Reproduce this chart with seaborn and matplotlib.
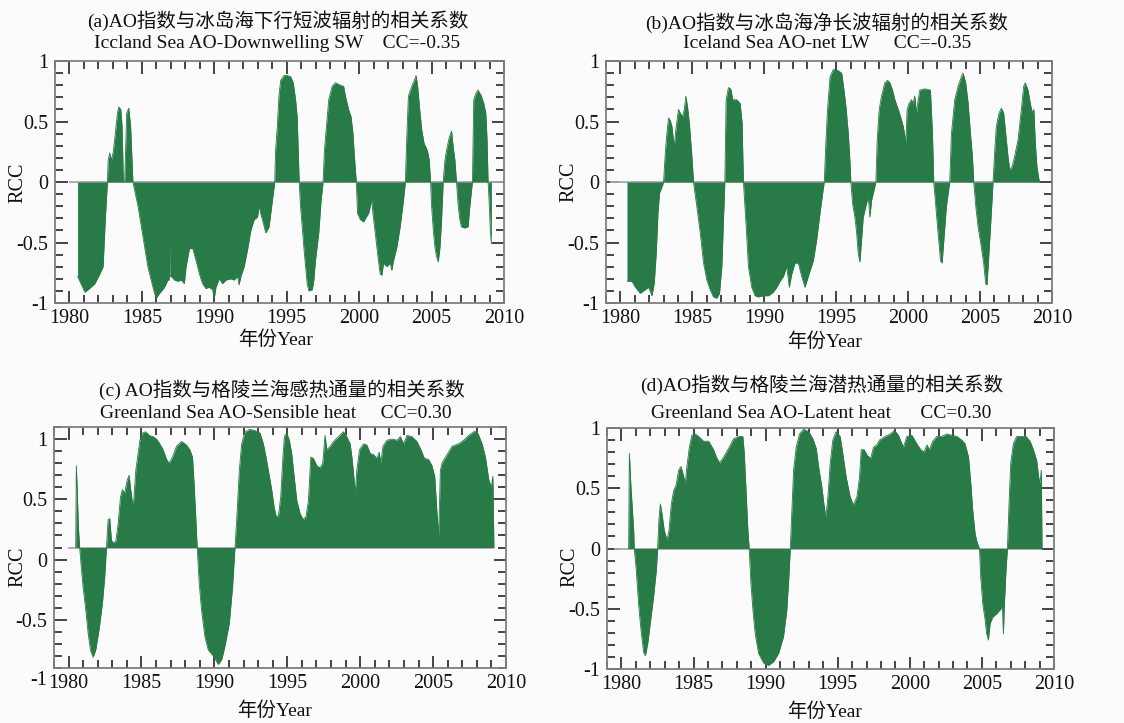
import matplotlib
matplotlib.use("Agg")
import matplotlib.pyplot as plt
from matplotlib.ticker import FixedLocator, MultipleLocator
import seaborn as sns

# ---------------- data ----------------
a_year = [1980.56, 1981.06, 1981.29, 1981.75, 1982.09, 1982.32, 1982.48, 1982.62, 1982.67, 1982.78,
          1982.89, 1983.01, 1983.12, 1983.31, 1983.40, 1983.54, 1983.63, 1983.72, 1983.81, 1983.95,
          1984.09, 1984.22, 1984.38, 1984.73, 1984.96, 1985.19, 1985.41, 1985.64, 1985.87, 1985.99,
          1986.22, 1986.56, 1986.79, 1986.88, 1986.90, 1986.93, 1987.02, 1987.25, 1987.48, 1987.71,
          1987.93, 1988.05, 1988.28, 1988.51, 1988.74, 1988.97, 1989.19, 1989.42, 1989.65, 1989.88,
          1990.00, 1990.11, 1990.34, 1990.57, 1990.80, 1991.14, 1991.37, 1991.60, 1991.71, 1991.83,
          1992.06, 1992.29, 1992.52, 1992.75, 1992.98, 1993.09, 1993.20, 1993.32, 1993.55, 1993.78,
          1994.01, 1994.17, 1994.23, 1994.35, 1994.46, 1994.58, 1994.81, 1995.04, 1995.27, 1995.45,
          1995.61, 1995.72, 1995.79, 1995.86, 1995.95, 1996.07, 1996.18, 1996.30, 1996.41, 1996.53,
          1996.76, 1996.87, 1996.98, 1997.21, 1997.37, 1997.51, 1997.60, 1997.74, 1997.90, 1998.13,
          1998.36, 1998.70, 1998.93, 1999.05, 1999.27, 1999.44, 1999.57, 1999.69, 1999.80, 1999.89,
          2000.08, 2000.31, 2000.49, 2000.65, 2000.81, 2000.88, 2000.95, 2001.11, 2001.27, 2001.45,
          2001.57, 2001.68, 2001.91, 2002.14, 2002.25, 2002.37, 2002.60, 2002.83, 2003.06, 2003.19,
          2003.28, 2003.40, 2003.63, 2003.81, 2003.93, 2004.04, 2004.16, 2004.32, 2004.48, 2004.71,
          2004.84, 2004.93, 2005.00, 2005.12, 2005.23, 2005.35, 2005.46, 2005.58, 2005.69, 2005.80,
          2005.92, 2006.03, 2006.22, 2006.38, 2006.49, 2006.61, 2006.72, 2006.84, 2006.95, 2007.06,
          2007.29, 2007.52, 2007.64, 2007.82, 2007.91, 2008.05, 2008.21, 2008.44, 2008.60, 2008.74,
          2008.83, 2008.90, 2008.97, 2009.06, 2009.13]
a_rcc = [-0.78, -0.91, -0.89, -0.84, -0.76, -0.70, -0.29, 0.0, 0.18, 0.24,
         0.18, 0.24, 0.35, 0.57, 0.62, 0.60, 0.46, 0.0, 0.0, 0.57,
         0.61, 0.46, 0.0, -0.20, -0.37, -0.54, -0.70, -0.81, -0.92, -0.96,
         -0.92, -0.87, -0.81, -0.81, -0.45, -0.78, -0.78, -0.81, -0.82, -0.81,
         -0.84, -0.70, -0.55, -0.55, -0.65, -0.76, -0.84, -0.88, -0.87, -0.89,
         -0.96, -0.87, -0.80, -0.84, -0.81, -0.80, -0.81, -0.78, -0.85, -0.78,
         -0.70, -0.56, -0.40, -0.31, -0.29, -0.20, -0.26, -0.31, -0.42, -0.37,
         -0.15, 0.0, 0.26, 0.46, 0.71, 0.84, 0.88, 0.88, 0.87, 0.82,
         0.68, 0.54, 0.26, 0.0, -0.20, -0.37, -0.54, -0.70, -0.84, -0.90,
         -0.89, -0.81, -0.65, -0.42, -0.15, 0.0, 0.26, 0.46, 0.68, 0.79,
         0.82, 0.80, 0.79, 0.71, 0.60, 0.54, 0.40, 0.18, 0.0, -0.26,
         -0.31, -0.33, -0.29, -0.26, -0.18, -0.15, -0.26, -0.42, -0.59, -0.76,
         -0.77, -0.67, -0.70, -0.67, -0.73, -0.65, -0.54, -0.37, -0.15, 0.0,
         0.35, 0.71, 0.79, 0.84, 0.88, 0.79, 0.62, 0.43, 0.32, 0.26,
         0.18, 0.0, -0.20, -0.40, -0.54, -0.62, -0.66, -0.54, -0.31, 0.0,
         0.18, 0.26, 0.37, 0.42, 0.29, 0.18, 0.0, -0.20, -0.31, -0.37,
         -0.38, -0.37, -0.20, 0.0, 0.68, 0.73, 0.76, 0.71, 0.65, 0.57,
         0.35, 0.0, -0.15, -0.42, -0.51]

b_year = [1980.46, 1980.80, 1981.04, 1981.38, 1981.73, 1981.96, 1982.19, 1982.35, 1982.49, 1982.61,
          1982.72, 1982.89, 1983.00, 1983.12, 1983.23, 1983.35, 1983.46, 1983.58, 1983.74, 1983.88,
          1984.04, 1984.16, 1984.32, 1984.44, 1984.55, 1984.67, 1984.81, 1984.97, 1985.08, 1985.31,
          1985.55, 1985.78, 1986.01, 1986.24, 1986.47, 1986.70, 1986.89, 1987.05, 1987.17, 1987.26,
          1987.35, 1987.51, 1987.67, 1987.81, 1988.09, 1988.32, 1988.46, 1988.55, 1988.74, 1988.90,
          1989.13, 1989.36, 1989.59, 1989.94, 1990.29, 1990.63, 1990.87, 1991.10, 1991.33, 1991.56,
          1991.74, 1991.91, 1992.14, 1992.37, 1992.60, 1992.83, 1993.06, 1993.41, 1993.64, 1993.87,
          1994.06, 1994.17, 1994.29, 1994.40, 1994.57, 1994.80, 1995.14, 1995.38, 1995.54, 1995.68,
          1995.84, 1995.95, 1996.02, 1996.14, 1996.30, 1996.42, 1996.53, 1996.65, 1996.76, 1996.88,
          1997.06, 1997.23, 1997.34, 1997.46, 1997.62, 1997.76, 1997.85, 1997.99, 1998.15, 1998.38,
          1998.57, 1998.73, 1998.91, 1999.08, 1999.31, 1999.47, 1999.66, 1999.84, 1999.93, 2000.07,
          2000.23, 2000.35, 2000.46, 2000.58, 2000.70, 2000.81, 2001.16, 2001.55, 2001.69, 2001.78,
          2001.92, 2002.08, 2002.25, 2002.36, 2002.48, 2002.66, 2002.89, 2003.01, 2003.24, 2003.47,
          2003.70, 2003.82, 2004.00, 2004.17, 2004.33, 2004.47, 2004.56, 2004.70, 2004.86, 2005.09,
          2005.25, 2005.39, 2005.48, 2005.60, 2005.78, 2005.90, 2006.02, 2006.13, 2006.32, 2006.48,
          2006.64, 2006.78, 2006.94, 2007.06, 2007.24, 2007.40, 2007.64, 2007.87, 2008.03, 2008.14,
          2008.33, 2008.49, 2008.63, 2008.74, 2008.84, 2008.95, 2009.09, 2009.18]
b_rcc = [-0.82, -0.82, -0.87, -0.92, -0.89, -0.87, -0.94, -0.84, -0.59, -0.26,
         -0.09, -0.04, 0.0, 0.24, 0.40, 0.53, 0.51, 0.46, 0.29, 0.46,
         0.60, 0.57, 0.54, 0.60, 0.71, 0.62, 0.46, 0.21, 0.0, -0.20,
         -0.42, -0.67, -0.81, -0.89, -0.95, -0.96, -0.92, -0.70, -0.29, 0.0,
         0.68, 0.78, 0.77, 0.68, 0.68, 0.65, 0.49, 0.0, -0.36, -0.70,
         -0.87, -0.94, -0.95, -0.94, -0.94, -0.91, -0.87, -0.82, -0.78, -0.70,
         -0.87, -0.76, -0.67, -0.67, -0.78, -0.87, -0.78, -0.65, -0.48, -0.26,
         -0.09, 0.0, 0.35, 0.60, 0.87, 0.93, 0.92, 0.90, 0.76, 0.62,
         0.40, 0.18, 0.0, -0.18, -0.29, -0.42, -0.59, -0.66, -0.48, -0.29,
         -0.20, -0.12, -0.29, -0.15, -0.07, 0.0, 0.35, 0.60, 0.71, 0.82,
         0.84, 0.82, 0.76, 0.68, 0.60, 0.54, 0.46, 0.33, 0.60, 0.65,
         0.68, 0.65, 0.71, 0.57, 0.68, 0.76, 0.77, 0.76, 0.40, 0.0,
         -0.20, -0.42, -0.65, -0.67, -0.48, -0.20, 0.0, 0.40, 0.68, 0.79,
         0.87, 0.90, 0.82, 0.65, 0.40, 0.21, 0.0, -0.20, -0.37, -0.54,
         -0.67, -0.84, -0.85, -0.62, -0.26, 0.0, 0.26, 0.46, 0.57, 0.61,
         0.57, 0.40, 0.21, 0.10, 0.13, 0.21, 0.35, 0.60, 0.79, 0.82,
         0.76, 0.65, 0.57, 0.60, 0.32, 0.13, 0.02, 0.0]

c_year = [1980.49, 1980.53, 1980.60, 1980.67, 1980.76, 1980.88, 1980.99, 1981.18, 1981.34, 1981.50,
          1981.68, 1981.86, 1982.09, 1982.32, 1982.48, 1982.60, 1982.71, 1982.82, 1982.94, 1983.05,
          1983.24, 1983.40, 1983.56, 1983.69, 1983.85, 1984.02, 1984.15, 1984.24, 1984.38, 1984.47,
          1984.61, 1984.77, 1984.89, 1985.07, 1985.30, 1985.53, 1985.80, 1986.03, 1986.26, 1986.49,
          1986.72, 1986.90, 1987.13, 1987.40, 1987.75, 1988.09, 1988.32, 1988.50, 1988.62, 1988.73,
          1988.82, 1988.96, 1989.12, 1989.35, 1989.58, 1989.92, 1990.27, 1990.50, 1990.72, 1991.02,
          1991.25, 1991.41, 1991.53, 1991.71, 1991.87, 1992.10, 1992.44, 1992.79, 1993.13, 1993.36,
          1993.54, 1993.70, 1993.93, 1994.09, 1994.23, 1994.39, 1994.55, 1994.69, 1994.80, 1994.96,
          1995.14, 1995.30, 1995.47, 1995.65, 1995.88, 1996.11, 1996.29, 1996.45, 1996.61, 1996.79,
          1997.02, 1997.25, 1997.43, 1997.59, 1997.71, 1997.94, 1998.17, 1998.51, 1998.85, 1999.08,
          1999.31, 1999.43, 1999.54, 1999.66, 1999.77, 1999.95, 2000.23, 2000.46, 2000.69, 2000.92,
          2001.14, 2001.30, 2001.42, 2001.56, 2001.83, 2002.17, 2002.52, 2002.75, 2002.98, 2003.21,
          2003.55, 2003.89, 2004.17, 2004.40, 2004.69, 2004.92, 2005.11, 2005.27, 2005.38, 2005.50,
          2005.61, 2005.95, 2006.30, 2006.53, 2006.75, 2007.10, 2007.44, 2007.79, 2007.97, 2008.13,
          2008.36, 2008.59, 2008.82, 2008.99, 2009.10, 2009.17]
c_rcc = [0.0, 0.68, 0.45, 0.17, 0.0, -0.18, -0.32, -0.52, -0.71, -0.85,
         -0.91, -0.85, -0.68, -0.46, -0.24, 0.0, 0.23, 0.24, 0.06, 0.04,
         0.05, 0.20, 0.42, 0.48, 0.45, 0.56, 0.60, 0.50, 0.37, 0.39,
         0.64, 0.78, 0.89, 0.95, 0.96, 0.93, 0.92, 0.90, 0.86, 0.81,
         0.73, 0.70, 0.75, 0.84, 0.88, 0.85, 0.81, 0.75, 0.50, 0.23,
         0.0, -0.30, -0.52, -0.74, -0.85, -0.90, -0.97, -0.93, -0.82, -0.63,
         -0.32, 0.0, 0.23, 0.64, 0.86, 0.96, 0.98, 0.97, 0.95, 0.86,
         0.75, 0.64, 0.48, 0.34, 0.26, 0.26, 0.42, 0.73, 0.92, 0.95,
         0.89, 0.78, 0.59, 0.39, 0.28, 0.23, 0.26, 0.39, 0.75, 0.74,
         0.68, 0.66, 0.70, 0.93, 0.81, 0.84, 0.88, 0.92, 0.96, 0.92,
         0.86, 0.75, 0.62, 0.45, 0.64, 0.81, 0.86, 0.85, 0.78, 0.77,
         0.74, 0.79, 0.70, 0.84, 0.89, 0.90, 0.89, 0.92, 0.86, 0.93,
         0.92, 0.88, 0.81, 0.74, 0.73, 0.68, 0.59, 0.28, 0.10, 0.64,
         0.70, 0.77, 0.84, 0.85, 0.86, 0.89, 0.93, 0.96, 0.97, 0.93,
         0.86, 0.75, 0.56, 0.50, 0.59, 0.0]

d_year = [1980.50, 1980.55, 1980.66, 1980.76, 1980.85, 1980.89, 1981.03, 1981.19, 1981.36, 1981.54,
          1981.66, 1981.82, 1982.00, 1982.23, 1982.42, 1982.51, 1982.60, 1982.70, 1982.81, 1982.97,
          1983.16, 1983.30, 1983.46, 1983.62, 1983.80, 1983.97, 1984.13, 1984.27, 1984.43, 1984.54,
          1984.71, 1984.89, 1985.12, 1985.35, 1985.70, 1986.05, 1986.39, 1986.62, 1986.81, 1987.09,
          1987.43, 1987.78, 1988.12, 1988.42, 1988.52, 1988.66, 1988.77, 1988.86, 1988.98, 1989.12,
          1989.28, 1989.51, 1989.86, 1990.20, 1990.55, 1990.90, 1991.24, 1991.47, 1991.61, 1991.71,
          1991.82, 1991.94, 1992.12, 1992.35, 1992.63, 1992.98, 1993.28, 1993.51, 1993.67, 1993.90,
          1994.06, 1994.18, 1994.32, 1994.48, 1994.66, 1994.89, 1995.17, 1995.35, 1995.59, 1995.86,
          1996.09, 1996.33, 1996.51, 1996.63, 1996.83, 1997.06, 1997.30, 1997.48, 1997.71, 1997.90,
          1998.29, 1998.64, 1998.94, 1999.21, 1999.56, 1999.79, 2000.14, 2000.48, 2000.76, 2000.99,
          2001.18, 2001.36, 2001.59, 2001.87, 2002.22, 2002.56, 2002.91, 2003.26, 2003.60, 2003.83,
          2004.07, 2004.23, 2004.36, 2004.53, 2004.69, 2004.83, 2004.92, 2005.06, 2005.22, 2005.33,
          2005.45, 2005.57, 2005.75, 2006.03, 2006.26, 2006.42, 2006.49, 2006.56, 2006.67, 2006.77,
          2006.88, 2007.00, 2007.18, 2007.41, 2007.76, 2008.06, 2008.34, 2008.57, 2008.80, 2008.94,
          2009.03, 2009.12, 2009.17]
d_rcc = [0.0, 0.79, 0.51, 0.32, 0.15, 0.0, -0.18, -0.46, -0.68, -0.86,
         -0.89, -0.79, -0.62, -0.40, -0.18, 0.0, 0.24, 0.37, 0.29, 0.15,
         0.07, 0.15, 0.37, 0.48, 0.53, 0.65, 0.68, 0.62, 0.54, 0.68,
         0.84, 0.94, 0.95, 0.93, 0.89, 0.89, 0.82, 0.75, 0.71, 0.76,
         0.83, 0.91, 0.93, 0.93, 0.79, 0.43, 0.15, 0.0, -0.29, -0.51,
         -0.71, -0.87, -0.95, -0.97, -0.94, -0.87, -0.73, -0.51, -0.24, 0.0,
         0.32, 0.65, 0.84, 0.95, 0.99, 0.97, 0.91, 0.83, 0.68, 0.51,
         0.35, 0.26, 0.43, 0.71, 0.90, 0.97, 0.93, 0.79, 0.59, 0.43,
         0.36, 0.43, 0.59, 0.82, 0.82, 0.77, 0.75, 0.84, 0.86, 0.90,
         0.93, 0.95, 0.98, 0.94, 0.84, 0.93, 0.94, 0.87, 0.82, 0.80,
         0.86, 0.82, 0.89, 0.93, 0.93, 0.95, 0.94, 0.93, 0.90, 0.87,
         0.76, 0.54, 0.32, 0.12, 0.04, 0.0, -0.24, -0.46, -0.59, -0.71,
         -0.76, -0.62, -0.57, -0.54, -0.51, -0.48, -0.71, -0.46, -0.18, 0.0,
         0.37, 0.71, 0.87, 0.93, 0.93, 0.93, 0.89, 0.82, 0.73, 0.59,
         0.54, 0.65, 0.0]

zero_spans = [(1980.0, 2009.9), (1979.3, 2009.2), (1979.96, 2009.2), (1979.46, 2009.2)]

titles_cn = ["(a)AO指数与冰岛海下行短波辐射的相关系数",
             "(b)AO指数与冰岛海净长波辐射的相关系数",
             "(c) AO指数与格陵兰海感热通量的相关系数",
             "(d)AO指数与格陵兰海潜热通量的相关系数"]
titles_en = ["Iccland Sea AO-Downwelling SW    CC=-0.35",
             "Iceland Sea AO-net LW     CC=-0.35",
             "Greenland Sea AO-Sensible heat     CC=0.30",
             "Greenland Sea AO-Latent heat      CC=0.30"]
x_ticks = [1980, 1985, 1990, 1995, 2000, 2005, 2010]
x_labels = ["1980", "1985", "1990", "1995", "2000", "2005", "2010"]
y_labels = ["1", "0.5", "0", "-0.5", "-1"]
y_label_values = [1.0, 0.5, 0.0, -0.5, -1.0]
label_shift = [0.0, 0.0, 0.1, 0.0]   # panel (c) has its tick labels offset from the data baseline

# ---------------- style ----------------
sns.set_theme(style="ticks")
plt.rcParams["font.family"] = ["Liberation Serif", "Noto Sans CJK SC", "DejaVu Sans"]
plt.rcParams["axes.unicode_minus"] = False

GREEN = "#287a47"
BG = "#fbfbfb"
TICK = "#444444"
W, H = 1124, 723

fig = plt.figure(figsize=(W / 100, H / 100), dpi=100, facecolor=BG)

# axes boxes in pixels: left, top, right, bottom
boxes = [(55, 61, 504, 303), (606, 61, 1052, 303), (54, 427, 506, 668), (607, 428, 1054, 669)]
title_pos = [((278, 21), (277, 43)), ((827, 23), (827, 43)), ((282, 390), (276, 413)), ((822, 385), (821, 413))]
ylab_pos = [(18, 183), (569, 182), (18, 567), (570, 567)]
xlab_pos = [(276, 340), (825, 342), (275, 711), (825, 712)]

def fx(x):
    return x / W

def fy(y):
    return 1 - y / H

series = [(a_year, a_rcc), (b_year, b_rcc), (c_year, c_rcc), (d_year, d_rcc)]

for i, (yrs, vals) in enumerate(series):
    l, t, r, b = boxes[i]
    ax = fig.add_axes([fx(l), fy(b), (r - l) / W, (b - t) / H])
    ax.set_facecolor(BG)
    ax.hlines(0, zero_spans[i][0], zero_spans[i][1], color="#a8a8a8", lw=1.3, zorder=1)
    ax.fill_between(yrs, 0, vals, color=GREEN, lw=0, zorder=2)
    sns.lineplot(x=yrs, y=vals, ax=ax, color=GREEN, lw=0.6, zorder=3,
                 estimator=None, sort=False)
    ax.set_xlim(1979, 2010)
    ax.set_ylim(-1, 1)
    ax.set_xlabel("")
    ax.set_ylabel("")

    ax.xaxis.set_major_locator(FixedLocator(x_ticks))
    ax.set_xticklabels(x_labels)
    ax.xaxis.set_minor_locator(MultipleLocator(1))

    sh = label_shift[i]
    pos = [v - sh for v in y_label_values]
    shown = [(p, lab) for p, lab in zip(pos, y_labels) if p >= -1.0001]
    ax.yaxis.set_major_locator(FixedLocator([p for p, _ in shown]))
    ax.set_yticklabels([lab for _, lab in shown])
    ax.yaxis.set_minor_locator(MultipleLocator(0.1))
    hidden = [(p, lab) for p, lab in zip(pos, y_labels) if p < -1.0001]
    for p, lab in hidden:
        ax.annotate(lab, xy=(0, p), xycoords=("axes fraction", "data"),
                    xytext=(-5, 0), textcoords="offset points",
                    ha="right", va="center", fontsize=14.5, color="#111111",
                    annotation_clip=False)

    ax.tick_params(axis="both", which="major", direction="in", top=True, right=True,
                   bottom=True, left=True, length=9, width=1.4, color=TICK,
                   labelsize=14.5, labelcolor="#111111")
    ax.tick_params(axis="both", which="minor", direction="in", top=True, right=True,
                   bottom=True, left=True, length=5.5, width=1.4, color=TICK)
    ax.tick_params(axis="x", which="major", pad=4)
    ax.tick_params(axis="y", which="major", pad=5)
    for sp in ax.spines.values():
        sp.set_visible(True)
        sp.set_color("#808080")
        sp.set_linewidth(1.3)

    (tx1, ty1), (tx2, ty2) = title_pos[i]
    fig.text(fx(tx1), fy(ty1), titles_cn[i], ha="center", va="center", fontsize=14, color="#111111")
    fig.text(fx(tx2), fy(ty2), titles_en[i], ha="center", va="center", fontsize=14, color="#111111")
    fig.text(fx(ylab_pos[i][0]), fy(ylab_pos[i][1]), "RCC", ha="center", va="center",
             rotation=90, fontsize=14.5, color="#111111")
    fig.text(fx(xlab_pos[i][0]), fy(xlab_pos[i][1]), "年份Year", ha="center", va="center",
             fontsize=14, color="#111111")

fig.savefig("out.png", dpi=100, facecolor=BG)
